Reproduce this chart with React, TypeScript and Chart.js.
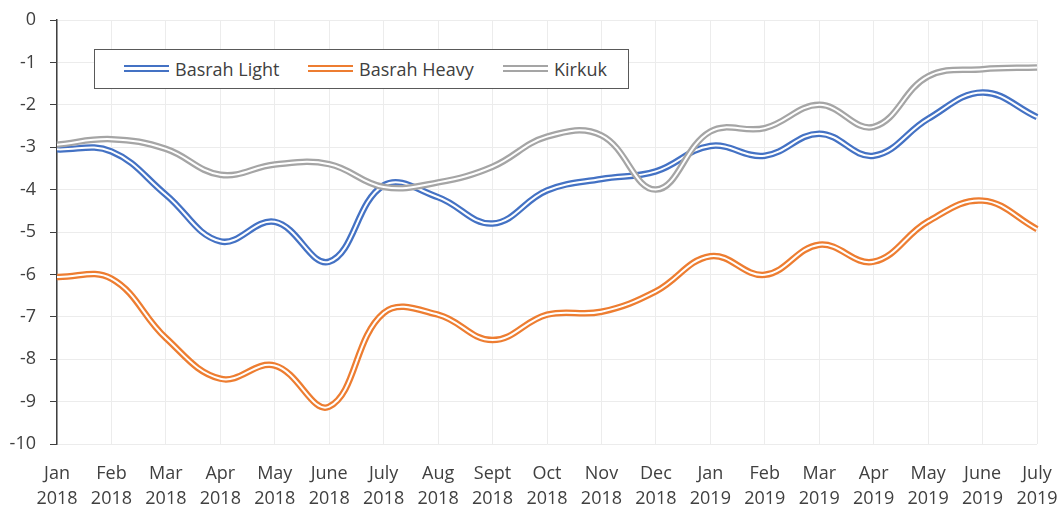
import React, { useEffect, useRef } from 'react';
import { Chart, registerables } from 'chart.js';

Chart.register(...registerables);

const months = ['Jan', 'Feb', 'Mar', 'Apr', 'May', 'June', 'July', 'Aug', 'Sept', 'Oct', 'Nov', 'Dec', 'Jan', 'Feb', 'Mar', 'Apr', 'May', 'June', 'July'];
const years = ['2018', '2018', '2018', '2018', '2018', '2018', '2018', '2018', '2018', '2018', '2018', '2018', '2019', '2019', '2019', '2019', '2019', '2019', '2019'];

const basrahLight = [-3.05, -3.1, -4.12, -5.22, -4.76, -5.7, -3.9, -4.18, -4.8, -4.02, -3.75, -3.57, -2.97, -3.2, -2.68, -3.2, -2.33, -1.71, -2.29];
const basrahHeavy = [-6.06, -6.1, -7.5, -8.46, -8.15, -9.12, -6.91, -6.95, -7.55, -6.95, -6.88, -6.4, -5.57, -6.01, -5.3, -5.7, -4.75, -4.26, -4.93];
const kirkuk = [-2.94, -2.81, -3.04, -3.65, -3.41, -3.4, -3.94, -3.83, -3.46, -2.75, -2.72, -4.0, -2.63, -2.55, -2.0, -2.52, -1.33, -1.16, -1.12];

const seriesNames = ['Basrah Light', 'Basrah Heavy', 'Kirkuk'];
const seriesColors = ['#4472C4', '#ED7D31', '#A5A5A5'];

const yMin = -10;
const yMax = 0;
const yStep = 1;

const FONT = '"Open Sans", "Liberation Sans", sans-serif';
const TEXT = '#404040';

export default function App() {
  const ref = useRef<HTMLCanvasElement | null>(null);

  useEffect(() => {
    if (!ref.current) return;
    const values = [basrahLight, basrahHeavy, kirkuk];
    const datasets: any[] = [];
    const n = values.length;
    for (let i = 0; i < n; i++) {
      const base = (n - 1 - i) * 2;
      datasets.push({
        label: seriesNames[i],
        data: values[i],
        borderColor: seriesColors[i],
        borderWidth: 6.5,
        pointRadius: 0,
        tension: 0.4,
        fill: false,
        order: base + 1,
      });
      datasets.push({
        label: seriesNames[i] + ' inner',
        data: values[i],
        borderColor: '#ffffff',
        borderWidth: 2,
        pointRadius: 0,
        tension: 0.4,
        fill: false,
        order: base,
      });
    }
    const labels = months.map((m, i) => [m, years[i]]);
    const chart = new Chart(ref.current, {
      type: 'line',
      data: { labels, datasets },
      options: {
        animation: false,
        responsive: false,
        maintainAspectRatio: false,
        layout: { padding: { top: 20, right: 23, left: 0, bottom: 0 } },
        plugins: { legend: { display: false }, tooltip: { enabled: false } },
        scales: {
          x: {
            type: 'category',
            offset: false,
            grid: { color: '#ececec', lineWidth: 1, drawTicks: false },
            border: { display: false },
            ticks: {
              color: TEXT,
              font: { family: FONT, size: 18, lineHeight: 1.4 },
              padding: 17,
              maxRotation: 0,
              autoSkip: false,
            },
            afterFit: (s: any) => {
              s.height = 64;
              s.paddingLeft = 0;
              s.paddingRight = 0;
            },
          },
          y: {
            min: yMin,
            max: yMax,
            ticks: {
              stepSize: yStep,
              color: TEXT,
              font: { family: FONT, size: 18 },
              padding: 14,
            },
            grid: { color: '#ececec', tickColor: '#404040', tickLength: 7, drawTicks: true, lineWidth: 1 },
            border: { display: true, color: '#404040', width: 1.5 },
            afterFit: (s: any) => {
              s.width = 57;
              s.paddingTop = 0;
              s.paddingBottom = 0;
            },
          },
        },
      },
    });
    return () => chart.destroy();
  }, []);

  const legendItems = [
    { name: seriesNames[0], color: seriesColors[0], sx: 30, tx: 81 },
    { name: seriesNames[1], color: seriesColors[1], sx: 214, tx: 265 },
    { name: seriesNames[2], color: seriesColors[2], sx: 409, tx: 460 },
  ];

  return (
    <div style={{ position: 'absolute', left: 0, top: 0, width: 1060, height: 508, background: '#fff' }}>
      <canvas ref={ref} width={1060} height={508} style={{ display: 'block' }} />
      <div
        style={{
          position: 'absolute',
          left: 94,
          top: 49,
          width: 535,
          height: 40,
          boxSizing: 'border-box',
          border: '1px solid #595959',
          background: '#fff',
          fontFamily: FONT,
          fontSize: 18,
          color: TEXT,
        }}
      >
        {legendItems.map((it) => (
          <React.Fragment key={it.name}>
            <div
              style={{
                position: 'absolute',
                left: it.sx - 1,
                top: 15,
                width: 45,
                height: 0,
                borderTop: `7px double ${it.color}`,
              }}
            />
            <div
              style={{
                position: 'absolute',
                left: it.tx - 1,
                top: 0,
                height: 38,
                lineHeight: '38px',
                whiteSpace: 'nowrap',
              }}
            >
              {it.name}
            </div>
          </React.Fragment>
        ))}
      </div>
    </div>
  );
}
